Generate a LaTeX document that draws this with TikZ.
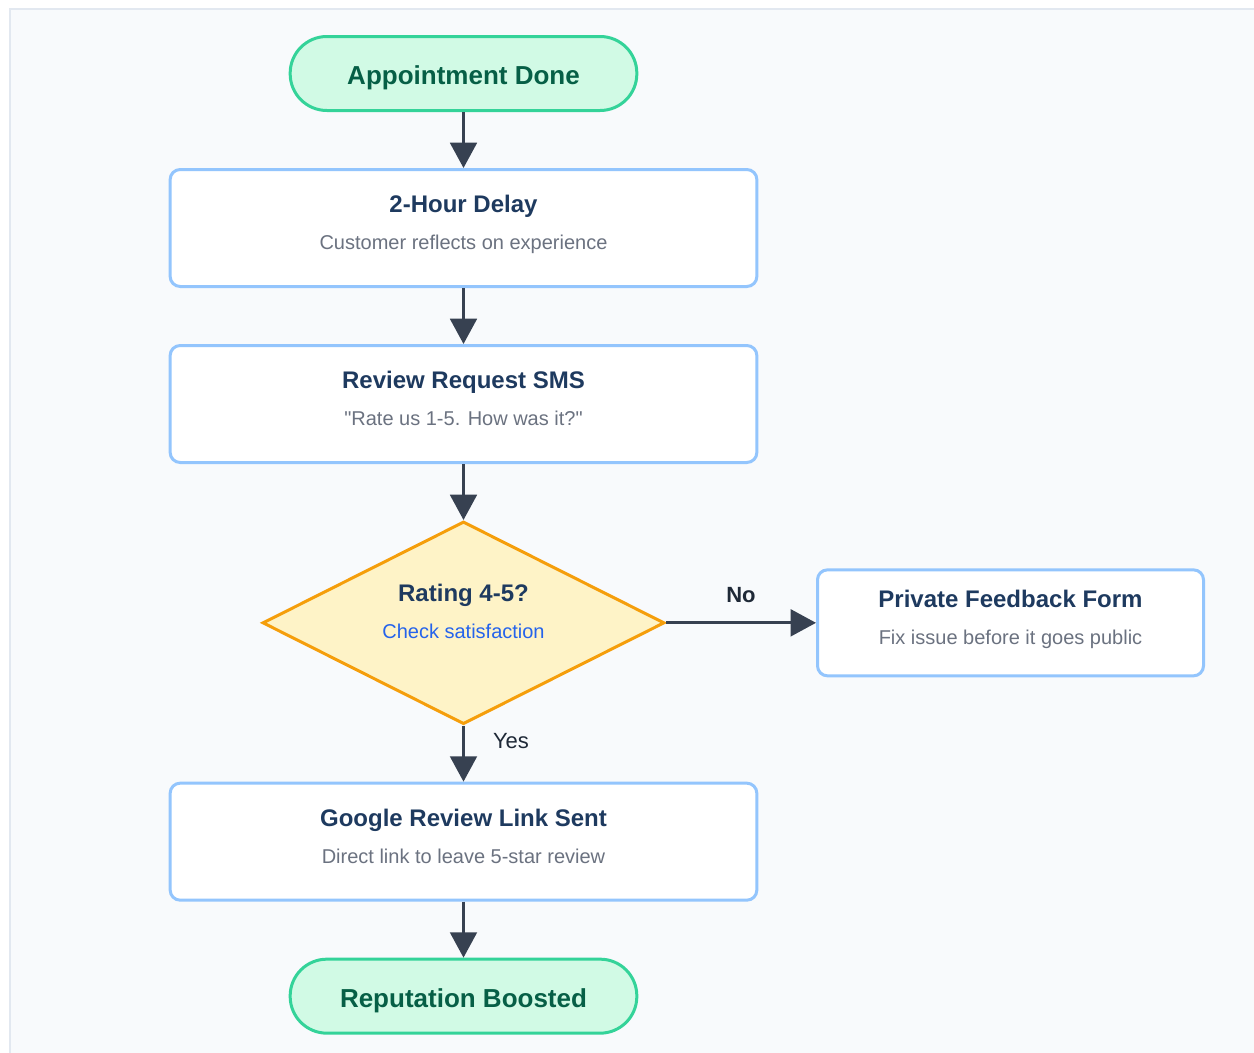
\documentclass[tikz,border=0pt]{standalone}
\usepackage{fontspec}
\setmainfont{Liberation Sans}[Ligatures=TeXOff]
\usetikzlibrary{positioning,shapes.geometric,arrows.meta}
\definecolor{panelfill}{HTML}{F8FAFC}
\definecolor{panelline}{HTML}{E2E8F0}
\definecolor{termfill}{HTML}{D1FAE5}
\definecolor{termline}{HTML}{34D399}
\definecolor{termtext}{HTML}{065F46}
\definecolor{boxline}{HTML}{93C5FD}
\definecolor{titletext}{HTML}{1E3A5F}
\definecolor{notetext}{HTML}{6B7280}
\definecolor{decfill}{HTML}{FEF3C7}
\definecolor{decline}{HTML}{F59E0B}
\definecolor{checktext}{HTML}{2563EB}
\definecolor{arrowline}{HTML}{374151}
\definecolor{labeltext}{HTML}{1F2937}
\newcommand{\flowtitle}[1]{{\color{titletext}\fontsize{18}{27.75}\selectfont\bfseries #1}}
\newcommand{\flownote}[1]{{\color{notetext}#1}}
\tikzset{
    panel/.style = {fill=panelfill, draw=panelline, line width=1.2pt},
    flow-terminal/.style = {draw=termline, fill=termfill, line width=2.25pt, rectangle, rounded corners=27.5pt, minimum width=260pt, minimum height=55.5pt, text height=17pt, text depth=0pt, text=termtext, font=\fontsize{19.5}{24}\selectfont\bfseries},
    flow-box/.style = {draw=boxline, fill=white, line width=2.25pt, rectangle, rounded corners=7.5pt, minimum width=440pt, minimum height=87.75pt, inner sep=0pt, align=center, text height=40.75pt, text depth=8.25pt, font=\fontsize{15}{27.75}\selectfont},
    flow-box-small/.style = {flow-box, minimum width=289.5pt, minimum height=79.5pt},
    flow-decision/.style = {diamond, aspect=2, draw=decline, fill=decfill, line width=2.25pt, inner sep=0pt, minimum width=301.5pt, minimum height=152pt, align=center, text height=40.75pt, text depth=16.75pt, font=\fontsize{15}{27.75}\selectfont},
    flow-arrow/.style = {draw=arrowline, line width=2.25pt, -{Triangle[length=19pt, width=20pt]}},
    edge-label/.style = {inner sep=0pt, text=labeltext, font=\fontsize{16.5}{20}\selectfont},
    edge-label-strong/.style = {edge-label, font=\fontsize{16.5}{20}\selectfont\bfseries},
}
\begin{document}
\begin{tikzpicture}[x=0.75pt, y=-0.75pt, node distance=42pt]
\useasboundingbox (0,0) rectangle (1254,1053);
\clip (0,0) rectangle (1254,1053);
\draw[panel] (10,9) rectangle (1280,1080);

\node[flow-terminal] (start) at (463.5,73.5) {Appointment Done};
\node[flow-box, below=of start] (delay) {\flowtitle{2-Hour Delay}\\\flownote{Customer reflects on experience}};
\node[flow-box, below=of delay] (request) {\flowtitle{Review Request SMS}\\\flownote{"Rate us 1-5. How was it?"}};
\node[flow-decision, below=of request] (rating) {\flowtitle{Rating 4-5?}\\{\color{checktext}Check satisfaction}};
\node[flow-box-small, right=112.5pt of rating] (private) {\flowtitle{Private Feedback Form}\\\flownote{Fix issue before it goes public}};
\node[flow-box, below=of rating] (google) {\flowtitle{Google Review Link Sent}\\\flownote{Direct link to leave 5-star review}};
\node[flow-terminal, below=of google] (boosted) {Reputation Boosted};

\draw[flow-arrow] (start) -- (delay);
\draw[flow-arrow] (delay) -- (request);
\draw[flow-arrow] (request) -- (rating);
\draw[flow-arrow] (rating) -- node[edge-label-strong, above=13.9pt] {No} (private);
\draw[flow-arrow] (rating) -- node[edge-label, pos=0.28, right=21pt] {Yes} (google);
\draw[flow-arrow] (google) -- (boosted);
\end{tikzpicture}
\end{document}
